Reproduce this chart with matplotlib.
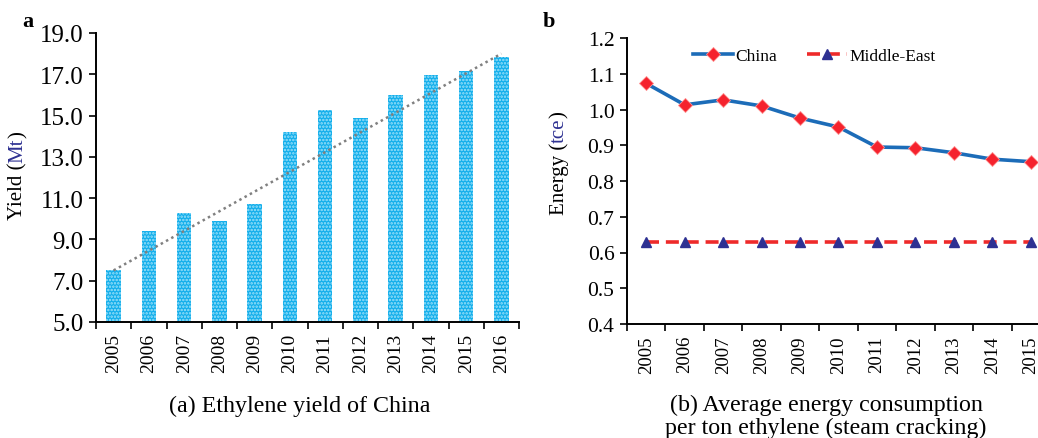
import numpy as np
import matplotlib
matplotlib.use("Agg")
import matplotlib.pyplot as plt

plt.rcParams['font.family'] = ['Liberation Serif', 'DejaVu Serif']
plt.rcParams['hatch.linewidth'] = 1.2

# (a) ethylene yield
years_a = ['2005', '2006', '2007', '2008', '2009', '2010', '2011', '2012', '2013', '2014', '2015', '2016']
yield_mt = [7.53, 9.39, 10.28, 9.88, 10.72, 14.22, 15.29, 14.88, 16.0, 16.97, 17.16, 17.82]
trend_ends = [7.5, 18.0]

# (b) energy per ton ethylene
years_b = ['2005', '2006', '2007', '2008', '2009', '2010', '2011', '2012', '2013', '2014', '2015']
china = [1.073, 1.013, 1.027, 1.010, 0.976, 0.951, 0.895, 0.893, 0.879, 0.861, 0.854]
mideast = [0.629] * 11

W, H = 1038, 439
fig = plt.figure(figsize=(W / 100, H / 100), dpi=100)
navy = '#2E3192'


def px(x0, y0, x1, y1):
    return [x0 / W, 1 - y1 / H, (x1 - x0) / W, (y1 - y0) / H]


def style_axes(ax, n, ysize, xsize):
    for s in ['top', 'right']:
        ax.spines[s].set_visible(False)
    for s in ['left', 'bottom']:
        ax.spines[s].set_linewidth(1.4)
    ax.set_xlim(-0.5, n - 0.5)
    ax.set_xticks(np.arange(n + 1) - 0.5, minor=True)
    ax.tick_params(axis='x', which='minor', length=5, width=1.2, direction='out')
    ax.tick_params(axis='x', which='major', length=0, pad=8, labelsize=xsize, labelrotation=90)
    ax.tick_params(axis='y', length=5, width=1.2, direction='out', labelsize=ysize, pad=4)


# ---- panel a ----
ax1 = fig.add_axes(px(96, 34, 519, 323))
x1 = np.arange(len(years_a))
ax1.bar(x1, yield_mt, width=0.41, color='#12AEEB', edgecolor='#9FE2FA', linewidth=0, hatch='.....')
ax1.plot([x1[0], x1[-1]], trend_ends, color='#808080', lw=1.8, ls=(0, (1, 1.4)))
ax1.set_ylim(5, 19)
ax1.set_yticks(np.arange(5, 20, 2))
ax1.set_yticklabels(['%.1f' % v for v in np.arange(5, 20, 2)])
ax1.set_xticks(x1)
ax1.set_xticklabels(years_a)
style_axes(ax1, len(years_a), 18, 14)

# ---- panel b ----
ax2 = fig.add_axes(px(627, 39, 1050, 325))
x2 = np.arange(len(years_b))
ax2.plot(x2, china, color='#1C6CB8', lw=2.6, marker='D', ms=7, mfc='#F5222D', mec='#FF9090',
         mew=0.6, label='China', clip_on=False)
ax2.plot(x2, mideast, color='#EE2A2A', lw=2.6, ls=(0, (3.6, 1.9)), marker='^', ms=7, mfc=navy,
         mec=navy, label='Middle-East', clip_on=False)
ax2.set_ylim(0.4, 1.2)
ax2.set_yticks(np.arange(0.4, 1.21, 0.1))
ax2.set_yticklabels(['%.1f' % v for v in np.arange(0.4, 1.21, 0.1)])
ax2.set_xticks(x2)
ax2.set_xticklabels(years_b)
style_axes(ax2, len(years_b), 15.5, 13.5)
ax2.legend(loc='upper left', bbox_to_anchor=(0.14, 0.99), ncol=2, frameon=False, fontsize=12.5,
           handlelength=2.3, handletextpad=0.15, columnspacing=1.7, borderaxespad=0)

# panel letters and captions
fig.text(22 / W, 1 - 22 / H, 'a', fontsize=16, fontweight='bold', ha='left', va='center')
fig.text(543 / W, 1 - 22 / H, 'b', fontsize=16, fontweight='bold', ha='left', va='center')
fig.text(300 / W, 1 - 406 / H, '(a) Ethylene yield of China', fontsize=17.3, ha='center', va='center')
fig.text(826 / W, 1 - 405 / H, '(b) Average energy consumption', fontsize=17.3, ha='center', va='center')
fig.text(826 / W, 1 - 428 / H, 'per ton ethylene (steam cracking)', fontsize=17.3, ha='center', va='center')


# vertical axis labels with coloured units
def vlabel(xc, ycen, parts, size=14):
    fig.canvas.draw()
    r = fig.canvas.get_renderer()
    texts = []
    for s, c in parts:
        t = fig.text(xc / W, 0, s, color=c, fontsize=size, rotation=90, ha='center', va='bottom')
        texts.append(t)
    hs = [t.get_window_extent(r).height for t in texts]
    y = (H - ycen) - sum(hs) / 2
    for t, h in zip(texts, hs):
        t.set_y(y / H)
        y += h


vlabel(18, 176, [('Yield (', 'black'), ('Mt', navy), (')', 'black')], 15)
vlabel(559, 163, [('Energy (', 'black'), ('tce', navy), (')', 'black')], 15)

fig.savefig('out.png', dpi=100)
